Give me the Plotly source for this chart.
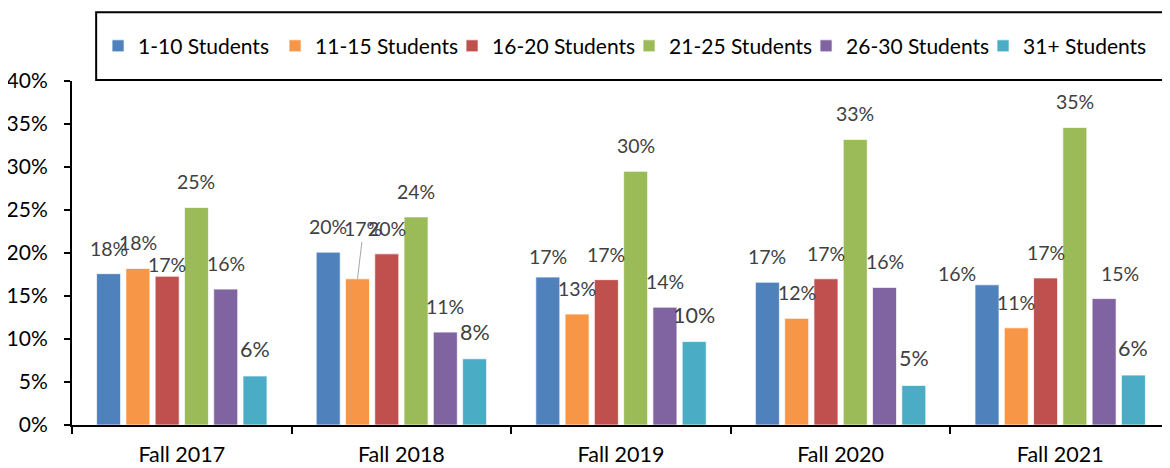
import plotly.graph_objects as go

terms = ['Fall 2017', 'Fall 2018', 'Fall 2019', 'Fall 2020', 'Fall 2021']
sizes = ['1-10 Students', '11-15 Students', '16-20 Students', '21-25 Students', '26-30 Students', '31+ Students']

s_1_10 = [17.6, 20.1, 17.2, 16.6, 16.3]
s_11_15 = [18.2, 17.0, 12.9, 12.4, 11.3]
s_16_20 = [17.3, 19.9, 16.9, 17.0, 17.1]
s_21_25 = [25.3, 24.2, 29.5, 33.2, 34.6]
s_26_30 = [15.8, 10.8, 13.7, 16.0, 14.7]
s_31_up = [5.7, 7.7, 9.7, 4.6, 5.8]

series = [s_1_10, s_11_15, s_16_20, s_21_25, s_26_30, s_31_up]
colors = ['#4F81BD', '#F79646', '#C0504D', '#9BBB59', '#8064A2', '#4BACC6']
label_size = [19.5, 19.5, 19.5, 19.5, 19.5, 21.5]

FONT = 'Lato, Calibri, sans-serif'
bargap = 0.2
bargroupgap = 0.18

# hand-moved labels in the original (term idx, series idx) -> (dx, dy)
nudge = {(0, 2): (0, -14), (2, 0): (0, -5), (4, 0): (-30, -14), (4, 4): (16, 0)}

fig = go.Figure()
for name, vals, col in zip(sizes, series, colors):
    fig.add_trace(go.Bar(x=terms, y=vals, name=name, marker_color=col,
                         marker_line=dict(color='rgba(255,255,255,0.7)', width=1)))

slot = (1 - bargap) / len(series)
for j, vals in enumerate(series):
    for i, v in enumerate(vals):
        dx, dy = nudge.get((i, j), (0, 0))
        xpos = i + (j - (len(series) - 1) / 2) * slot
        if (i, j) == (1, 1):
            # label pulled up with a leader line
            fig.add_annotation(x=xpos, y=v, text=f'{v:.0f}%', showarrow=True,
                               arrowhead=0, arrowwidth=1, arrowcolor='#A6A6A6',
                               ax=6, ay=-50, standoff=0,
                               font=dict(family=FONT, size=label_size[j], color='#404040'))
            continue
        fig.add_annotation(x=xpos, y=v, text=f'{v:.0f}%', showarrow=False,
                           yanchor='bottom', yshift=12 + dy, xshift=dx,
                           font=dict(family=FONT, size=label_size[j], color='#404040'))

# legend frame
fig.add_shape(type='rect', xref='paper', yref='paper', x0=0.022, x1=0.998, y0=1.003, y1=1.2,
              line=dict(color='black', width=2), fillcolor='rgba(0,0,0,0)')

# page body has an 8px margin, so the figure is 8px smaller than the window
fig.update_layout(
    width=1162,
    height=460,
    barmode='group',
    bargap=bargap,
    bargroupgap=bargroupgap,
    plot_bgcolor='white',
    paper_bgcolor='white',
    margin=dict(l=64, r=0, t=73, b=43, autoexpand=False),
    font=dict(family=FONT, size=20, color='black'),
    showlegend=True,
    legend=dict(orientation='h', xref='container', yref='container',
                x=0.0775, xanchor='left', y=0.917, yanchor='middle',
                bgcolor='rgba(0,0,0,0)', font=dict(size=21, color='black'),
                entrywidth=132, itemwidth=30),
)
fig.update_xaxes(showline=True, linecolor='black', linewidth=2, ticks='outside',
                 tickson='boundaries', ticklen=7, tickwidth=2, tickcolor='black',
                 showgrid=False, tickfont=dict(size=21.5), ticklabelstandoff=9,
                 automargin=False)
fig.update_yaxes(range=[0, 40], dtick=5, ticksuffix='%', showline=True, linecolor='black',
                 linewidth=2, ticks='outside', ticklen=6, tickwidth=2, tickcolor='black',
                 showgrid=False, zeroline=False, tickfont=dict(size=21),
                 ticklabelstandoff=12, automargin=False)

fig.write_html("out.html")
